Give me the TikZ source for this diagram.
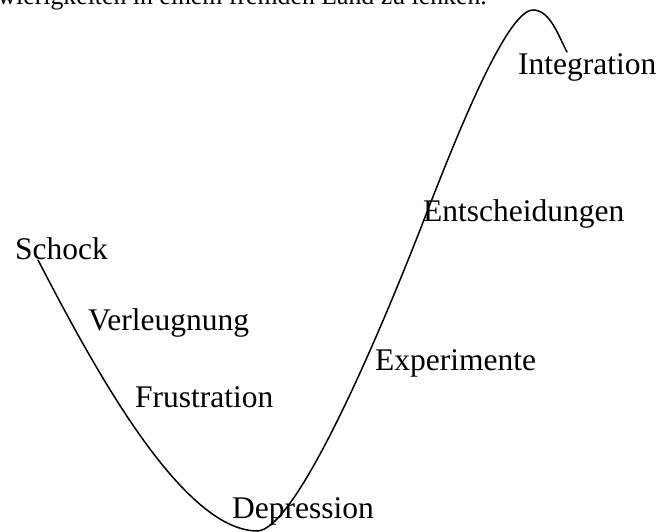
\documentclass[tikz,border=0pt]{standalone}
\usepackage{fontspec}
\setmainfont{Liberation Serif}
\begin{document}
\begin{tikzpicture}[x=1pt,y=-1pt,
  lbl/.style={anchor=base west,inner sep=0pt,font=\fontsize{31.5}{36}\selectfont},
  curve/.style={line width=1.5pt,line cap=round}]
\useasboundingbox (0,0) rectangle (659,532);
\clip (0,0) rectangle (659,532);
\node[anchor=base east,inner sep=0pt,font=\fontsize{25.8}{30}\selectfont] (top) at (487,5) {Schwierigkeiten in einem fremden Land zu lenken.};
\coordinate (c0) at (38,260);
\coordinate (c1) at (257,531);
\coordinate (c2) at (420,230);
\coordinate (c3) at (533,10);
\coordinate (c4) at (567,52);
\draw[curve] (c0) .. controls (90,360) and (180,530) .. (c1)
  .. controls (295,531) and (375,345) .. (c2)
  .. controls (450,153) and (505,10) .. (c3)
  .. controls (550,10) and (558,35) .. (c4);
\node[lbl] (schock) at (15,259) {Schock};
\node[lbl] (verl) at (88,330) {Verleugnung};
\node[lbl] (frus) at (135,407) {Frustration};
\node[lbl] (dep) at (232,518) {Depression};
\node[lbl] (exp) at (375,370) {Experimente};
\node[lbl] (ent) at (423,222) {Entscheidungen};
\node[lbl] (int) at (518,75) {Integration};
\end{tikzpicture}
\end{document}
